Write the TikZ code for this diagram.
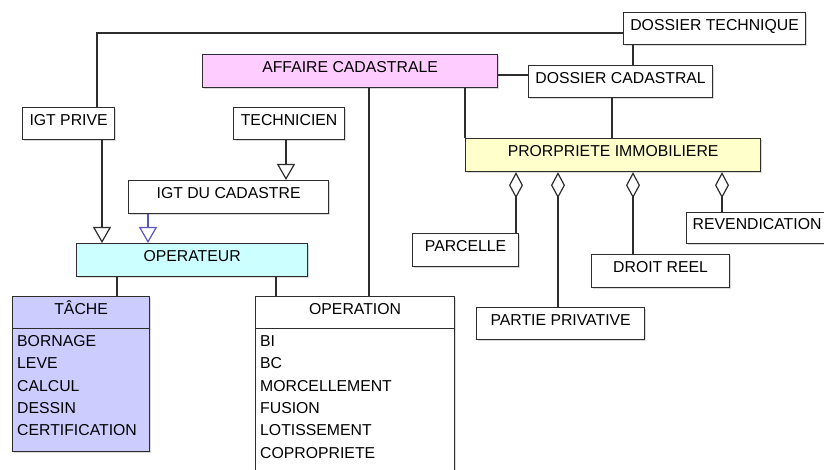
\documentclass[tikz,border=0pt]{standalone}
\usepackage{fontspec}
\setmainfont{Liberation Sans}
\usetikzlibrary{arrows.meta,shadows}
\definecolor{linecol}{RGB}{45,45,45}
\definecolor{pinkfill}{RGB}{255,204,255}
\definecolor{yellowfill}{RGB}{255,255,204}
\definecolor{cyanfill}{RGB}{204,255,255}
\definecolor{lilacfill}{RGB}{204,204,255}
\definecolor{linkblue}{RGB}{85,85,200}
\newcommand\boxtextfont{\fontsize{15.8}{22}\selectfont}
\begin{document}
\begin{tikzpicture}[x=1pt,y=-1pt,
  box/.style={draw=linecol, line width=1.2pt, fill=white, inner sep=0pt,
    anchor=north west, text height=11.3pt, text depth=8pt, font=\boxtextfont,
    drop shadow={shadow xshift=1.5pt, shadow yshift=-1.5pt, opacity=0.3}},
  plainbox/.style={draw=linecol, line width=1.2pt, fill=white, inner sep=0pt,
    anchor=north west,
    drop shadow={shadow xshift=1.5pt, shadow yshift=-1.5pt, opacity=0.3}},
  item/.style={anchor=base west, inner sep=0pt, font=\boxtextfont},
  conn/.style={draw=linecol, line width=1.2pt},
  isa/.style={conn, -{Triangle[open, width=18pt, length=16pt, fill=white]}},
  agg/.style={conn, {Diamond[open, width=14pt, length=26pt, fill=white]}-},
]
\clip (0,0) rectangle (824,470);

% classes
\node[box, minimum width=182pt, minimum height=32pt] (dt) at (623,12) {DOSSIER TECHNIQUE};
\node[box, fill=pinkfill, minimum width=295pt, minimum height=33pt] (ac) at (202,54) {AFFAIRE CADASTRALE};
\node[box, minimum width=184pt, minimum height=32pt] (dc) at (528,65) {DOSSIER CADASTRAL};
\node[box, fill=yellowfill, minimum width=295pt, minimum height=33pt] (pi) at (465,138) {PRORPRIETE IMMOBILIERE};
\node[box, minimum width=92pt, minimum height=32pt] (igtp) at (22,107) {IGT PRIVE};
\node[box, minimum width=111pt, minimum height=32pt] (tech) at (233,107) {TECHNICIEN};
\node[box, minimum width=200pt, minimum height=33pt] (igtc) at (128,180) {IGT DU CADASTRE};
\node[box, fill=cyanfill, minimum width=231pt, minimum height=33pt] (op) at (76,243) {OPERATEUR};
\node[box, minimum width=106pt, minimum height=33pt] (parc) at (412,233) {PARCELLE};
\node[box, minimum width=168pt, minimum height=32pt] (pp) at (476,307) {PARTIE PRIVATIVE};
\node[box, minimum width=138pt, minimum height=33pt] (dr) at (591,254) {DROIT REEL};
\node[box, minimum width=141pt, minimum height=31pt] (rev) at (686,212) {REVENDICATION};

% class with attribute compartment: TACHE
\node[box, fill=lilacfill, minimum width=137pt, minimum height=32pt] (tache) at (12,296) {TÂCHE};
\node[plainbox, fill=lilacfill, minimum width=137pt, minimum height=123pt] (tachebody) at (12,328) {};
\foreach \t [count=\i] in {BORNAGE,LEVE,CALCUL,DESSIN,CERTIFICATION}
  \node[item] (tache-\i) at (17,{346.6+22.3*(\i-1)}) {\t};

% class with attribute compartment: OPERATION
\node[box, minimum width=199pt, minimum height=32pt] (opn) at (255,296) {OPERATION};
\node[plainbox, minimum width=199pt, minimum height=160pt] (opnbody) at (255,328) {};
\foreach \t [count=\i] in {BI,BC,MORCELLEMENT,FUSION,LOTISSEMENT,COPROPRIETE}
  \node[item] (opn-\i) at (260,{346.6+22.3*(\i-1)}) {\t};

% routing coordinates
\coordinate (bendA) at (97,33);
\coordinate (xdtdc) at (633,0);
\coordinate (yacdc) at (0,75);
\coordinate (xdcpi) at (612,0);
\coordinate (xacop) at (369,0);
\coordinate (xtech) at (286,0);
\coordinate (xigtp) at (102,0);
\coordinate (xigtc) at (148,0);
\coordinate (xtache) at (117,0);
\coordinate (xopn) at (276,0);
\coordinate (xparc) at (516,0);
\coordinate (xpp) at (558,0);
\coordinate (xdr) at (633,0);
\coordinate (xrev) at (722,0);

% associations
\draw[conn] (dt.west |- bendA) -- (bendA) -- (bendA |- igtp.north);
\draw[conn] (xdtdc |- dt.south) -- (xdtdc |- dc.north);
\draw[conn] (ac.east |- yacdc) -- (dc.west |- yacdc);
\draw[conn] (pi.north west |- ac.south) -- (pi.north west);
\draw[conn] (xdcpi |- dc.south) -- (xdcpi |- pi.north);
\draw[conn] (xacop |- ac.south) -- (xacop |- opn.north);
\draw[conn] (xtache |- op.south) -- (xtache |- tache.north);
\draw[conn] (xopn |- op.south) -- (xopn |- opn.north);

% generalisations
\draw[isa] (xtech |- tech.south) -- (xtech |- igtc.north);
\draw[isa] (xigtp |- igtp.south) -- (xigtp |- op.north);
\draw[isa, draw=linkblue] (xigtc |- igtc.south) -- (xigtc |- op.north);

% aggregations
\draw[agg] (xparc |- pi.south) -- (xparc |- parc.north);
\draw[agg] (xpp |- pi.south) -- (xpp |- pp.north);
\draw[agg] (xdr |- pi.south) -- (xdr |- dr.north);
\draw[agg] (xrev |- pi.south) -- (xrev |- rev.north);
\end{tikzpicture}
\end{document}
